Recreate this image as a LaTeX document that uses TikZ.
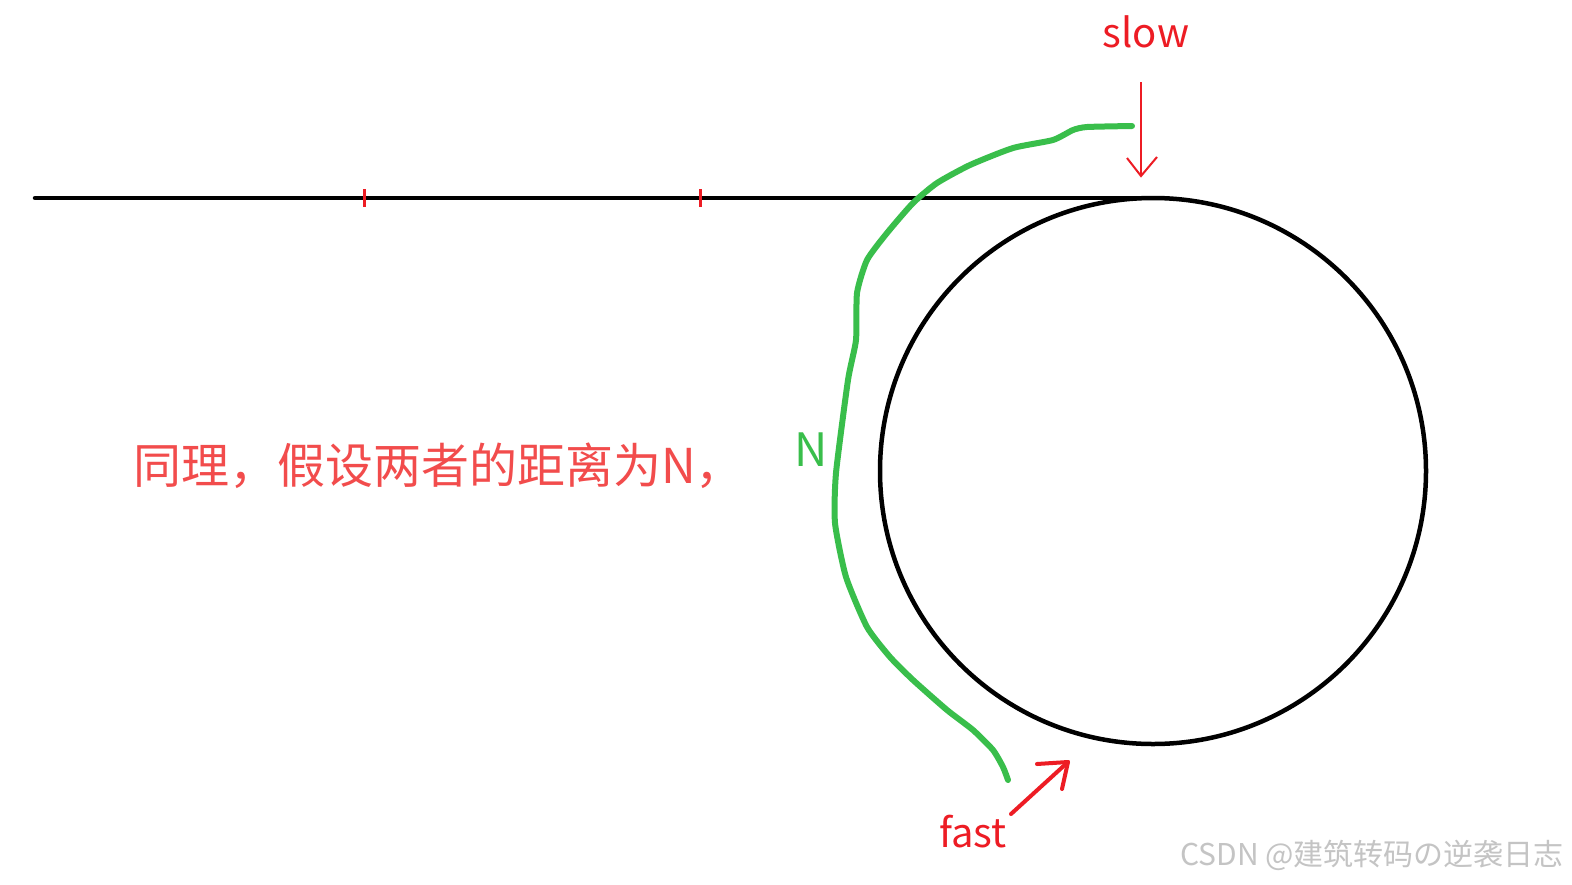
\documentclass[tikz,border=0pt]{standalone}
\usepackage{fontspec}
\setmainfont{Noto Sans CJK SC}
\definecolor{pred}{RGB}{237,28,36}
\definecolor{tred}{RGB}{242,76,76}
\definecolor{pgreen}{RGB}{57,190,75}
\definecolor{wgray}{RGB}{196,196,196}
\tikzset{
  blackline/.style={draw=black,line width=4.5pt,line cap=round},
  ticksty/.style={draw=pred,line width=3pt},
  greenpath/.style={draw=pgreen,line width=6pt,line cap=round,line join=round},
  slowarrow/.style={draw=pred,line width=2pt,line join=miter},
  fastarrow/.style={draw=pred,line width=4pt,line cap=round,line join=round},
  lbl/.style={inner sep=0pt,font=\fontsize{40}{48}\selectfont,text=pred},
}
\begin{document}
\begin{tikzpicture}[x=1pt,y=-1pt]
\useasboundingbox (0,0) rectangle (1572,884);
\fill[white] (0,0) rectangle (1572,884);
% main line
\coordinate (L) at (35,198);
\coordinate (T) at (1160,198);
\draw[blackline] (L) -- (T);
% loop
\node[circle,draw=black,line width=4.5pt,minimum size=546pt,inner sep=0pt] (C) at (1153,471) {};
% ticks
\coordinate (t1a) at (364,189); \coordinate (t1b) at (364,207);
\coordinate (t2a) at (700,189); \coordinate (t2b) at (700,207);
\draw[ticksty] (t1a) -- (t1b);
\draw[ticksty] (t2a) -- (t2b);
% green distance path
\draw[greenpath] plot[smooth,tension=0.35] coordinates {
 (1132,126) (1087,127) (1073,130) (1053,140) (1013,148) (970,165) (937,183)
 (913,203) (887,233) (867,260) (857,293) (856,340) (848,380)
 (836,473) (835,523) (846,577) (867,627) (890,657) (913,680)
 (947,710) (973,730) (993,750) (1003,767) (1008,780)};
% slow arrow
\coordinate (s0) at (1141,82);
\coordinate (s1) at (1141,176);
\coordinate (sa) at (1127,158);
\coordinate (sb) at (1157,157);
\draw[slowarrow] (s0) -- (s1);
\draw[slowarrow] (sa) -- (s1) -- (sb);
% fast arrow
\coordinate (f0) at (1011,814);
\coordinate (f1) at (1068,762);
\coordinate (fa) at (1037,764);
\coordinate (fb) at (1062,789);
\draw[fastarrow] (f0) -- (f1);
\draw[fastarrow] (fa) -- (f1) -- (fb);
% labels
\node[lbl] (slow) at (1146,32) {slow};
\node[lbl] (fast) at (973,832) {fast};
\node[inner sep=0pt,font=\fontsize{46}{54}\selectfont,text=pgreen] (N) at (811,450) {N};
\node[inner sep=0pt,anchor=west,font=\fontsize{48}{56}\selectfont,text=tred] (txt) at (133,466) {同理，假设两者的距离为N，};
\node[inner sep=0pt,anchor=east,font=\fontsize{30}{36}\selectfont,text=wgray] (wm) at (1564,855) {CSDN @建筑转码の逆袭日志};
\end{tikzpicture}
\end{document}
